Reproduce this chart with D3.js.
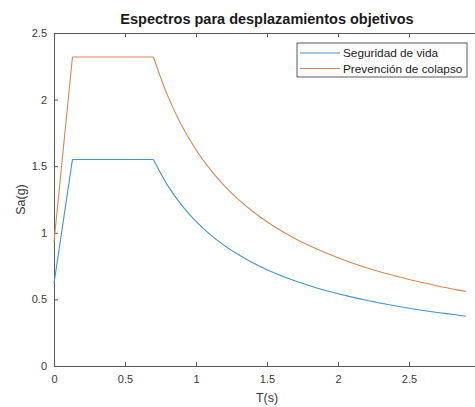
<!DOCTYPE html>
<html>
<head>
<meta charset="utf-8">
<script src="https://cdn.jsdelivr.net/npm/d3@7"></script>
<style>
  html, body { margin: 0; padding: 0; background: #fff; }
  svg { display: block; font-family: "Liberation Sans", Arial, Helvetica, sans-serif; }
</style>
</head>
<body>
<svg id="chart" width="475" height="407"></svg>
<script>
// Periods T (s)
const periods = [0, 0.13, 0.7, 0.8, 0.9, 1.0, 1.1, 1.2, 1.3, 1.4, 1.5, 1.6, 1.7, 1.8, 1.9,
                 2.0, 2.1, 2.2, 2.3, 2.4, 2.5, 2.6, 2.7, 2.8, 2.9];
// Spectral acceleration Sa (g), life safety
const seguridadVida = [0.62, 1.55, 1.55, 1.356, 1.206, 1.085, 0.986, 0.904, 0.835, 0.775, 0.723,
                       0.678, 0.638, 0.603, 0.571, 0.543, 0.517, 0.493, 0.472, 0.452, 0.434,
                       0.417, 0.402, 0.388, 0.374];
// Spectral acceleration Sa (g), collapse prevention
const prevencionColapso = [0.93, 2.32, 2.32, 2.030, 1.804, 1.624, 1.476, 1.353, 1.249, 1.160, 1.083,
                           1.015, 0.955, 0.902, 0.855, 0.812, 0.773, 0.738, 0.706, 0.677, 0.650,
                           0.625, 0.601, 0.580, 0.560];
const seriesNames = ["Seguridad de vida", "Prevención de colapso"];
const xTicks = [0, 0.5, 1, 1.5, 2, 2.5];
const yTicks = [0, 0.5, 1, 1.5, 2, 2.5];

const colors = ["#4496c6", "#d98756"];
const axisColor = "#5a5a5a";
const textColor = "#3a3a3a";

const svg = d3.select("#chart");
const plotLeft = 54, plotTop = 33, plotBottom = 366, plotRight = 480;

const x = d3.scaleLinear().domain([0, 3]).range([plotLeft, plotRight]);
const y = d3.scaleLinear().domain([0, 2.5]).range([plotBottom, plotTop]);

// Axes (ticks pointing inward, mirrored on top)
const xAxis = svg.append("g").attr("transform", `translate(0,${plotBottom})`)
  .call(d3.axisBottom(x).tickValues(xTicks).tickSizeInner(-4).tickSizeOuter(0).tickPadding(9)
    .tickFormat(d3.format("")));
const xTop = svg.append("g").attr("transform", `translate(0,${plotTop})`)
  .call(d3.axisTop(x).tickValues(xTicks).tickSizeInner(-4).tickSizeOuter(0).tickFormat(""));
const yAxis = svg.append("g").attr("transform", `translate(${plotLeft},0)`)
  .call(d3.axisLeft(y).tickValues(yTicks).tickSizeInner(-4).tickSizeOuter(0).tickPadding(7)
    .tickFormat(d3.format("")));

[xAxis, xTop, yAxis].forEach(g => {
  g.select(".domain").attr("stroke", axisColor).attr("stroke-width", 1);
  g.selectAll(".tick line").attr("stroke", axisColor);
  g.selectAll(".tick text").attr("fill", textColor).attr("font-size", 11);
});

// Right border of the axes box
svg.append("line").attr("x1", plotRight).attr("x2", plotRight).attr("y1", plotTop).attr("y2", plotBottom)
  .attr("stroke", axisColor);

// Series lines: straight ramp and plateau, smooth descending branch
const rampLine = d3.line().x(d => x(d[0])).y(d => y(d[1]));
const decayLine = d3.line().x(d => x(d[0])).y(d => y(d[1])).curve(d3.curveCatmullRom.alpha(0.5));
[seguridadVida, prevencionColapso].forEach((vals, k) => {
  const pts = vals.map((v, i) => [periods[i], v]);
  const g = svg.append("g").attr("fill", "none").attr("stroke", colors[k])
    .attr("stroke-width", 1.1).attr("stroke-linejoin", "round");
  g.append("path").attr("d", rampLine(pts.slice(0, 3)));
  g.append("path").attr("d", decayLine(pts.slice(2)));
});

// Title and axis labels
svg.append("text").attr("x", (plotLeft + plotRight) / 2).attr("y", 24)
  .attr("text-anchor", "middle").attr("font-weight", "bold").attr("font-size", 14.5)
  .attr("fill", "#1a1a1a").text("Espectros para desplazamientos objetivos");
svg.append("text").attr("x", (plotLeft + plotRight) / 2).attr("y", 402)
  .attr("text-anchor", "middle").attr("font-size", 12.5).attr("fill", textColor).text("T(s)");
svg.append("text").attr("transform", `translate(25,${(plotTop + plotBottom) / 2}) rotate(-90)`)
  .attr("text-anchor", "middle").attr("font-size", 12.5).attr("fill", textColor).text("Sa(g)");

// Legend
const lg = svg.append("g").attr("transform", "translate(297,43)");
lg.append("rect").attr("width", 170).attr("height", 34)
  .attr("fill", "#fff").attr("stroke", axisColor).attr("stroke-width", 1);
seriesNames.forEach((name, k) => {
  const cy = 10 + k * 15.5;
  lg.append("line").attr("x1", 3).attr("x2", 43).attr("y1", cy).attr("y2", cy)
    .attr("stroke", colors[k]).attr("stroke-width", 1.1);
  lg.append("text").attr("x", 46).attr("y", cy + 4.2).attr("font-size", 11.8)
    .attr("fill", "#1a1a1a").text(name);
});
</script>
</body>
</html>
